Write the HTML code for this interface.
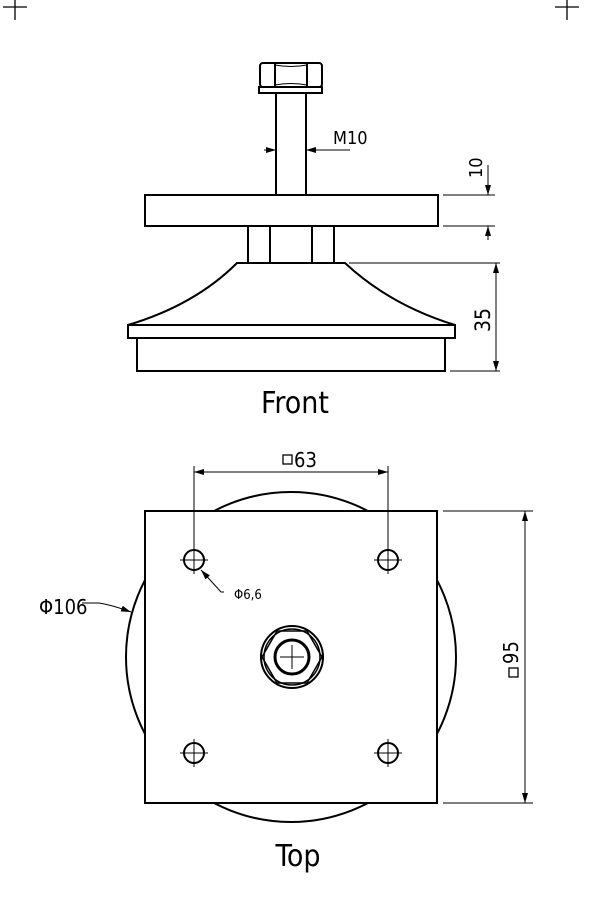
<!DOCTYPE html>
<html><head><meta charset="utf-8"><style>
html,body{margin:0;padding:0;background:#fff;}
svg{display:block;}
text{font-family:"DejaVu Sans Condensed","Liberation Sans Narrow","Liberation Sans",sans-serif;fill:#000;}
</style></head><body>
<svg width="600" height="900" viewBox="0 0 600 900" xmlns="http://www.w3.org/2000/svg">
<defs>
<marker id="a" viewBox="0 0 10 6" refX="10" refY="3" markerWidth="10" markerHeight="6" markerUnits="userSpaceOnUse" orient="auto"><path d="M0,0 L10,3 L0,6 z" fill="#000"/></marker>
</defs>
<g stroke="#000" fill="none" stroke-width="1.3">
<path d="M3,7 H27 M15,0 V20 M555,7 H579 M567,0 V20"/>
</g>
<g stroke="#000" fill="none" stroke-width="2">
<!-- bolt head -->
<rect x="260" y="63" width="62" height="24" rx="3"/>
<path d="M275,64 V87 M307,64 V87"/>
<path d="M275,65 Q291,68 307,65 M275,85 Q291,82 307,85" stroke-width="1"/>
<rect x="259" y="87" width="63" height="6"/>
<path d="M276,93 V195 M306,93 V195"/>
<rect x="145" y="195" width="293" height="31"/>
<rect x="248" y="226" width="86" height="37"/>
<path d="M270,226 V263 M312,226 V263"/>
<path d="M237,263 H345 Q390,305 455,325 H128 Q195,305 237,263 Z"/>
<rect x="128" y="325" width="327" height="13"/>
<path d="M137,338 V371 H445 V338"/>
</g>
<g stroke="#000" fill="none" stroke-width="1">
<path d="M264,150 H276" marker-end="url(#a)"/>
<path d="M350,150 H306" marker-end="url(#a)"/>
<path d="M443,195 H495 M443,226 H495"/>
<path d="M488,165 V195" marker-end="url(#a)"/>
<path d="M488,240 V226" marker-end="url(#a)"/>
<path d="M349,263 H500 M450,371 H500"/>
<path d="M496,317 V263" marker-end="url(#a)"/>
<path d="M496,317 V371" marker-end="url(#a)"/>
</g>
<text x="333" y="144" font-size="18">M10</text>
<text transform="translate(482,178) rotate(-90)" font-size="18">10</text>
<text transform="translate(490,332) rotate(-90)" font-size="21">35</text>
<text x="295" y="413" font-size="30" text-anchor="middle">Front</text>

<!-- top view -->
<g stroke="#000" fill="none" stroke-width="2">
<circle cx="291" cy="657" r="165"/>
<rect x="145" y="511" width="292" height="292" fill="#fff"/>
<circle cx="194" cy="560" r="10"/><circle cx="388" cy="560" r="10"/>
<circle cx="194" cy="753" r="10"/><circle cx="388" cy="753" r="10"/>
<circle cx="292" cy="657" r="31"/>
<circle cx="292" cy="657" r="28" stroke-width="1.5"/>
<path d="M277,631 H307 L322,657 L307,683 H277 L262,657 Z" stroke-width="1.5"/>
<circle cx="292" cy="657" r="17" stroke-width="3"/>
</g>
<g stroke="#000" fill="none" stroke-width="1">
<path d="M194,546 V574 M180,560 H208 M388,546 V574 M374,560 H402 M194,739 V767 M180,753 H208 M388,739 V767 M374,753 H402"/>
<path d="M280,657 H304 M292,645 V669"/>
<path d="M194,466 V560 M388,466 V560"/>
<path d="M291,472 H194" marker-end="url(#a)"/>
<path d="M291,472 H388" marker-end="url(#a)"/>
<path d="M443,511 H533 M443,803 H533"/>
<path d="M525,657 V511" marker-end="url(#a)"/>
<path d="M525,657 V803" marker-end="url(#a)"/>
<path d="M82,603 H99 Q112,605 131,612" marker-end="url(#a)"/>
<path d="M224,592 H221 L201,570" marker-end="url(#a)"/>
</g>
<rect x="283" y="455" width="9" height="9" fill="none" stroke="#000" stroke-width="1.3"/>
<text x="294" y="467" font-size="20">63</text>
<rect x="509" y="668" width="9" height="9" fill="none" stroke="#000" stroke-width="1.3"/>
<text transform="translate(518,664) rotate(-90)" font-size="20">95</text>
<text x="39" y="614" font-size="20">Φ106</text>
<text x="234" y="599" font-size="13">Φ6,6</text>
<text x="298" y="866" font-size="30" text-anchor="middle">Top</text>
</svg>
</body></html>
